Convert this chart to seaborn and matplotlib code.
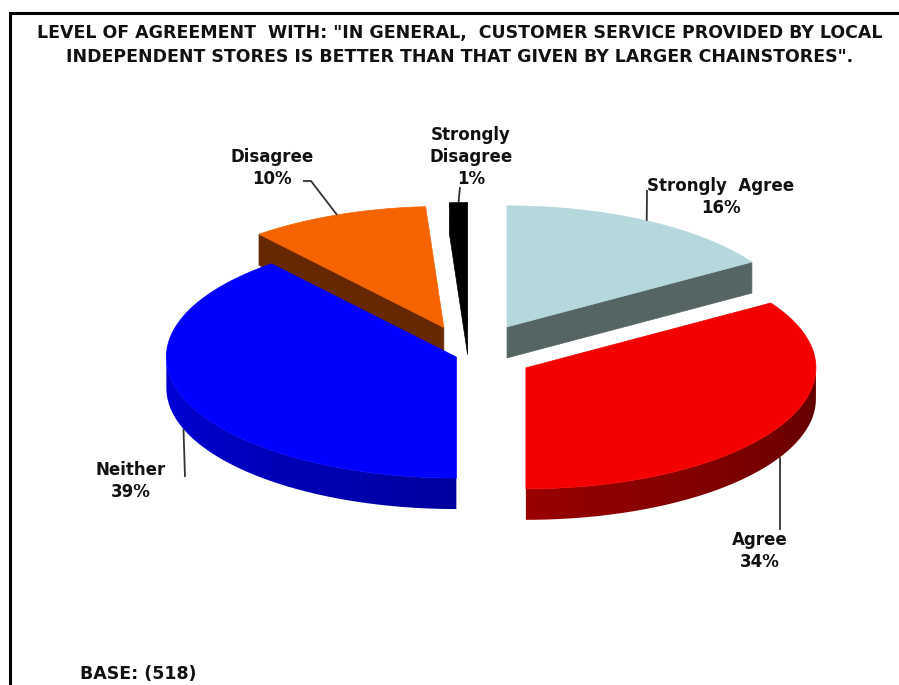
import numpy as np
import matplotlib
matplotlib.use("Agg")
import matplotlib.pyplot as plt
from matplotlib.patches import Polygon
from matplotlib.colors import to_rgb
import seaborn as sns

# Survey responses (share of respondents, %)
categories = ["Strongly  Agree", "Agree", "Neither", "Disagree", "Strongly\nDisagree"]
percents = [16, 34, 39, 10, 1]
base_n = 518

title = ('LEVEL OF AGREEMENT  WITH: "IN GENERAL,  CUSTOMER SERVICE PROVIDED BY LOCAL\n'
         'INDEPENDENT STORES IS BETTER THAN THAT GIVEN BY LARGER CHAINSTORES".')

# Styling
top_colors = ["#B4D8DC", "#F50000", "#0000FF", "#F56400", "#000000"]
wall_colors = ["#556564", "#8A0000", "#0000C0", "#662800", "#000000"]
explode = [0.265, 0.22, 0.05, 0.245, 0.26]

sns.set_theme(style="white")
plt.rcParams["font.family"] = ["DejaVu Sans"]

W, H = 899, 685
fig = plt.figure(figsize=(W / 100, H / 100), dpi=100)
ax = fig.add_axes([0, 0, 1, 1])
ax.set_xlim(0, W)
ax.set_ylim(H, 0)
ax.axis("off")

# 3-D pie geometry (pixel space, y pointing down)
CX, CY = 470.0, 355.0
A, B = 290.0, 121.0
DEPTH = 31.0

frac = np.array(percents, dtype=float) / np.sum(percents)
ends = np.cumsum(frac) * 360.0
starts = ends - frac * 360.0
mids = (starts + ends) / 2.0


def apex_of(i):
    t = np.radians(mids[i])
    e = explode[i]
    return np.array([CX + e * A * np.sin(t), CY - e * B * np.cos(t)])


def rim(apex, deg, dz=0.0):
    t = np.radians(deg)
    return np.array([apex[0] + A * np.sin(t), apex[1] - B * np.cos(t) + dz])


def draw_slice(i):
    p = apex_of(i)
    t1, t2 = starts[i], ends[i]
    # radial walls facing the viewer
    for deg, visible in ((t1, np.sin(np.radians(t1)) < -1e-6),
                         (t2, np.sin(np.radians(t2)) > 1e-6)):
        if visible:
            r0 = rim(p, deg)
            quad = [p, r0, r0 + [0, DEPTH], p + [0, DEPTH]]
            ax.add_patch(Polygon(quad, closed=True, facecolor=wall_colors[i],
                                 edgecolor=wall_colors[i], lw=0.5, zorder=2))
    # curved outer wall on the front half, lit from the left
    lo, hi = max(t1, 90.0), min(t2, 270.0)
    if hi > lo:
        degs = np.linspace(lo, hi, 200)
        upper = [rim(p, d) for d in degs]
        lower = [rim(p, d, DEPTH) for d in degs[::-1]]
        wall = Polygon(upper + lower, closed=True, facecolor="none",
                       edgecolor="none", zorder=2)
        ax.add_patch(wall)
        xs = np.array([q[0] for q in upper])
        x_min, x_max = xs.min() - 1, xs.max() + 1
        ys = np.array([q[1] for q in upper + lower])
        y_min, y_max = ys.min() - 1, ys.max() + 1
        # angle for each image column on the front half
        cols = np.linspace(x_min, x_max, 400)
        sn = np.clip((cols - p[0]) / A, -1, 1)
        ang = 180.0 - np.degrees(np.arcsin(sn))
        f = 0.39 + (ang - 90.0) / 180.0 * 0.47
        rgb = np.array(to_rgb(top_colors[i]))
        img = (f[:, None] * rgb[None, :])[None, :, :]
        im = ax.imshow(img, extent=(x_min, x_max, y_max, y_min),
                       aspect="auto", interpolation="bilinear", zorder=2)
        im.set_clip_path(wall)
        ax.set_xlim(0, W)
        ax.set_ylim(H, 0)
    # top face
    degs = np.linspace(t1, t2, max(int((t2 - t1) * 2), 4))
    pts = [p] + [rim(p, d) for d in degs]
    ax.add_patch(Polygon(pts, closed=True, facecolor=top_colors[i],
                         edgecolor=top_colors[i], lw=0.5, zorder=3))


for i in [0, 4, 3, 2, 1]:
    draw_slice(i)

# Data labels with leader lines
label_pos = [(721, 197), (760, 551), (131, 481), (272, 168), (471, 157)]
leader_from = [[(647, 190)], [(780, 530)], [(185, 477)],
               [(303, 181), (311, 181)], [(460, 187)]]
text_kw = dict(ha="center", va="center", fontsize=12, fontweight="bold",
               color="#111111", linespacing=1.3, zorder=5)
for i, cat in enumerate(categories):
    ax.text(*label_pos[i], f"{cat}\n{percents[i]}%", **text_kw)
    p = apex_of(i)
    m = mids[i]
    dz = DEPTH if 90.0 < m < 270.0 else 0.0
    end = rim(p, m, dz)
    pts = np.array(leader_from[i] + [tuple(end)])
    ax.plot(pts[:, 0], pts[:, 1], color="#333333", lw=1.3, zorder=4,
            solid_capstyle="butt")

ax.text(460, 45, title, ha="center", va="center", fontsize=12.5,
        fontweight="bold", color="#111111", linespacing=1.45)
ax.text(80, 665, f"BASE: ({base_n})", ha="left", va="top", fontsize=12.5,
        fontweight="bold", color="#111111")

# Frame lines (left and top)
ax.plot([9.5, 9.5, W], [H, 13.3, 13.3], color="black", lw=2.2,
        solid_joinstyle="miter", zorder=6)

fig.savefig("out.png", dpi=100)
